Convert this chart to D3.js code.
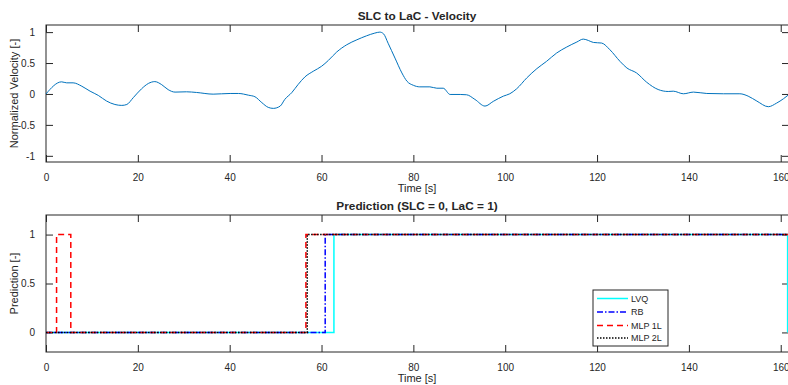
<!DOCTYPE html>
<html>
<head>
<meta charset="utf-8">
<script src="https://cdn.jsdelivr.net/npm/d3@7"></script>
<style>
  body { margin: 0; background: #fff; }
  text { font-family: "Liberation Sans", Arial, Helvetica, sans-serif; fill: #262626; }
</style>
</head>
<body>
<div id="chart"></div>
<script>
// velocity trace
const velTime = [0, 3.4, 4.5, 5.9, 7.8, 9.6, 11.4, 13.2, 15.0, 16.5, 17.6, 19.0, 20.8, 22.3, 23.7, 25.2,
  26.6, 28.1, 30.6, 32.8, 36.4, 40.1, 41.9, 44.1, 45.5, 47.0, 48.4, 49.5, 51.0, 52.0, 53.5, 54.9,
  56.4, 58.2, 60.0, 61.5, 63.3, 65.5, 67.7, 69.8, 71.6, 72.7, 73.5, 74.5, 76.0, 77.5, 78.6, 80.0,
  81.4, 83.6, 85.1, 86.5, 88.0, 90.2, 91.6, 93.4, 95.6, 97.4, 99.6, 101.0, 102.5, 104.7, 106.9,
  109.0, 111.2, 113.4, 115.6, 117.0, 118.1, 119.2, 121.0, 122.8, 125.0, 126.5, 128.6, 130.8,
  133.3, 135.5, 136.6, 138.8, 141.0, 143.9, 147.5, 151.1, 152.9, 154.8, 157.3, 159.1, 160.6, 161.6];
const velValue = [0, 0.196, 0.18, 0.18, 0.125, 0.045, -0.024, -0.115, -0.17, -0.185, -0.17, -0.06, 0.083, 0.17, 0.2, 0.15,
  0.07, 0.03, 0.035, 0.024, -0.003, 0.008, 0.008, -0.02, -0.045, -0.14, -0.217, -0.233, -0.196, -0.088, 0.02, 0.153,
  0.277, 0.367, 0.447, 0.543, 0.678, 0.796, 0.876, 0.94, 0.984, 1.0, 0.973, 0.82, 0.58, 0.34, 0.206, 0.14,
  0.115, 0.115, 0.093, 0.093, -0.008, -0.008, -0.013, -0.088, -0.196, -0.12, -0.035, 0.003, 0.084, 0.26, 0.41,
  0.527, 0.662, 0.759, 0.84, 0.887, 0.865, 0.833, 0.823, 0.715, 0.527, 0.42, 0.34, 0.19,
  0.072, 0.04, 0.045, 0.003, 0.03, 0.008, 0.003, 0.003, -0.035, -0.115, -0.206, -0.148, -0.077, -0.02];

// classifier outputs (step changes)
const lvqTime = [0, 62.7, 161.5], lvqValue = [0, 1, 0];
const rbTime = [0, 60.8, 161.8], rbValue = [0, 1, 1];
const mlp1Time = [0, 2.3, 5.4, 56.6, 161.8], mlp1Value = [0, 1, 0, 1, 1];
const mlp2Time = [0, 56.9, 161.8], mlp2Value = [0, 1, 1];

const seriesNames = ["LVQ", "RB", "MLP 1L", "MLP 2L"];
const xTicks = [0, 20, 40, 60, 80, 100, 120, 140, 160];
const velTicks = [-1, -0.5, 0, 0.5, 1];
const predTicks = [0, 0.5, 1];

const W = 788, H = 385;
const left = 46, right = 789;

const svg = d3.select("#chart").append("svg")
  .attr("width", W).attr("height", H);
svg.append("rect").attr("width", W).attr("height", H).attr("fill", "#fff");

const x = d3.scaleLinear().domain([0, 161.8]).range([left, right]);

function drawAxesBox(top, bottom, y, yticks, title, ylabel) {
  const g = svg.append("g");
  const tl = 7;
  // inward ticks on all four sides
  g.append("g").attr("transform", "translate(0," + bottom + ")")
    .call(d3.axisBottom(x).tickValues(xTicks).tickSizeInner(-tl).tickSizeOuter(0).tickPadding(12))
    .call(a => a.select(".domain").remove());
  g.append("g").attr("transform", "translate(0," + top + ")")
    .call(d3.axisTop(x).tickValues(xTicks).tickSizeInner(-tl).tickSizeOuter(0).tickFormat(""))
    .call(a => a.select(".domain").remove());
  g.append("g").attr("transform", "translate(" + left + ",0)")
    .call(d3.axisLeft(y).tickValues(yticks).tickSizeInner(-tl).tickSizeOuter(0).tickPadding(11)
      .tickFormat(d => String(d)))
    .call(a => a.select(".domain").remove());
  g.append("g").attr("transform", "translate(" + right + ",0)")
    .call(d3.axisRight(y).tickValues(yticks).tickSizeInner(-tl).tickSizeOuter(0).tickFormat(""))
    .call(a => a.select(".domain").remove());
  g.selectAll(".tick line").attr("stroke", "#262626");
  g.selectAll(".tick text").style("font-size", "10px").attr("fill", "#262626");
  g.append("rect")
    .attr("x", left).attr("y", top)
    .attr("width", right - left).attr("height", bottom - top)
    .attr("fill", "none").attr("stroke", "#262626").attr("stroke-width", 1);

  svg.append("text")
    .attr("x", (left + right - 1) / 2).attr("y", top - 5)
    .attr("text-anchor", "middle")
    .style("font-size", "11.8px").style("font-weight", "bold")
    .attr("fill", "#000")
    .text(title);
  svg.append("text")
    .attr("x", (left + right - 1) / 2).attr("y", bottom + 30)
    .attr("text-anchor", "middle")
    .style("font-size", "11px")
    .text("Time [s]");
  svg.append("text")
    .attr("transform", "translate(18," + ((top + bottom) / 2) + ") rotate(-90)")
    .attr("text-anchor", "middle")
    .style("font-size", "11px")
    .text(ylabel);
}

// top panel: velocity
const y1 = d3.scaleLinear().domain([-1.1, 1.115]).range([162, 25]);
drawAxesBox(25, 162, y1, velTicks, "SLC to LaC - Velocity", "Normalized Velocity [-]");

const velLine = d3.line()
  .x((d, i) => x(velTime[i]))
  .y(d => y1(d))
  .curve(d3.curveMonotoneX);
svg.append("path")
  .datum(velValue)
  .attr("d", velLine)
  .attr("fill", "none")
  .attr("stroke", "#0072BD")
  .attr("stroke-width", 1);

// bottom panel: predictions
const y2 = d3.scaleLinear().domain([-0.2, 1.2]).range([352, 215]);
drawAxesBox(215, 352, y2, predTicks, "Prediction (SLC = 0, LaC = 1)", "Prediction [-]");

const styles = [
  { t: lvqTime, v: lvqValue, color: "#00FFFF", dash: null },
  { t: rbTime, v: rbValue, color: "#0000FF", dash: "6,2,1.5,2" },
  { t: mlp1Time, v: mlp1Value, color: "#FF0000", dash: "6,4" },
  { t: mlp2Time, v: mlp2Value, color: "#000000", dash: "1.5,1.5" }
];

const clip = svg.append("clipPath").attr("id", "clip2")
  .append("rect").attr("x", left).attr("y", 215).attr("width", right - left).attr("height", 137);

const stepLine = d3.line().curve(d3.curveStepAfter);
styles.forEach(s => {
  svg.append("path")
    .attr("d", stepLine(s.t.map((t, i) => [x(t), y2(s.v[i])])))
    .attr("fill", "none")
    .attr("stroke", s.color)
    .attr("stroke-width", 1.5)
    .attr("stroke-dasharray", s.dash)
    .attr("clip-path", "url(#clip2)");
});

// legend
const lg = svg.append("g").attr("transform", "translate(593,290)");
lg.append("rect").attr("width", 75).attr("height", 56)
  .attr("fill", "#fff").attr("stroke", "#262626").attr("stroke-width", 1);
const rowY = [8.5, 22, 35.5, 48];
seriesNames.forEach((name, i) => {
  const s = styles[i];
  lg.append("line")
    .attr("x1", 4).attr("x2", 35).attr("y1", rowY[i]).attr("y2", rowY[i])
    .attr("stroke", s.color).attr("stroke-width", 1.5)
    .attr("stroke-dasharray", s.dash);
  lg.append("text")
    .attr("x", 38).attr("y", rowY[i]).attr("dy", "0.35em")
    .style("font-size", "9px")
    .text(name);
});
</script>
</body>
</html>
